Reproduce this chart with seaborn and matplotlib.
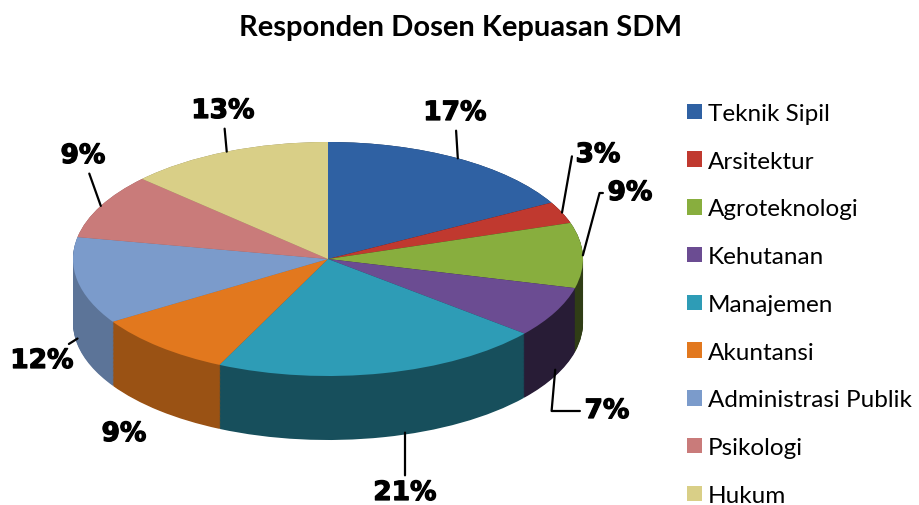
import matplotlib
matplotlib.use("Agg")
import matplotlib.pyplot as plt
import matplotlib.patheffects as pe
import numpy as np
import seaborn as sns
from matplotlib.colors import to_rgb

# ---- chart data ----
title = "Responden Dosen Kepuasan SDM"
categories = ["Teknik Sipil", "Arsitektur", "Agroteknologi", "Kehutanan", "Manajemen",
              "Akuntansi", "Administrasi Publik", "Psikologi", "Hukum"]
percent = [17, 3, 9, 7, 21, 9, 12, 9, 13]
colors = ["#2f61a3", "#c0392f", "#88ae3e", "#6b4c92", "#2e9cb6",
          "#e2781e", "#7b9bcb", "#c97b7a", "#d9cf87"]

# ---- layout (pixels, measured from top-left) ----
W, H = 919, 506
cx, cy = 328, 260          # centre of the top ellipse
rx, ry = 255, 117          # ellipse radii
depth = 64                 # height of the 3d wall
label_pos = [(455, 114), (598, 156), (630, 194), (607, 412), (405, 494),
             (124, 435), (42, 362), (83, 157), (223, 112)]
leader = ["arc3", "angle,angleA=0,angleB=80,rad=0", "angle,angleA=0,angleB=75,rad=0",
          "angle,angleA=0,angleB=85,rad=0", "vertical", None,
          "arc3", "arc3", "arc3"]

sns.set_theme(style="white")
plt.rcParams["font.family"] = ["Lato", "DejaVu Sans"]
plt.rcParams["text.color"] = "black"

fig = plt.figure(figsize=(W / 100, H / 100), dpi=100)
ax = fig.add_axes([0, 0, 1, 1])


def to_data(px, py):
    return (px - cx) / rx, (cy - py) / ry


# side wall: stack of darker pies shifted down
shares = np.array(percent) / sum(percent)
starts = 90 - 360 * np.concatenate([[0], np.cumsum(shares)[:-1]])
mids = np.radians(starts - 180 * shares)
wall_colors = []
for c, m in zip(colors, mids):
    f = 0.55 - 0.2 * np.cos(m)
    wall_colors.append(tuple(v * f for v in to_rgb(c)))

for d in np.linspace(depth, 0, 80):
    ax.pie(percent, colors=wall_colors, startangle=90, counterclock=False,
           center=(0, -d / ry), radius=1, wedgeprops=dict(linewidth=0))

# top face
wedges, _ = ax.pie(percent, colors=colors, startangle=90, counterclock=False,
                   radius=1, wedgeprops=dict(linewidth=0))

ax.set_aspect("auto")
ax.set_xlim(-cx / rx, (W - cx) / rx)
ax.set_ylim(-(H - cy) / ry, cy / ry)
ax.axis("off")

# percentage labels with leader lines
bold = dict(ha="center", va="center", color="black", fontsize=19, fontweight="heavy",
            family="DejaVu Sans",
            path_effects=[pe.withStroke(linewidth=0.9, foreground="black")])
for p, m, pos, style in zip(percent, mids, label_pos, leader):
    txt = f"{p}%"
    tx, ty = to_data(*pos)
    if style is None:
        ax.text(tx, ty, txt, **bold)
        continue
    x, y = np.cos(m), np.sin(m)
    if style == "vertical":
        # hang the line straight down from the bottom of the wall
        x, y = tx, -np.sqrt(1 - tx ** 2) - 0.97 * depth / ry
        style = "arc3"
    elif y < 0:
        y -= 0.9 * depth / ry
    ax.annotate(txt, xy=(x, y), xytext=(tx, ty), **bold,
                arrowprops=dict(arrowstyle="-", color="black", lw=1.6,
                                connectionstyle=style, shrinkA=1, shrinkB=0))

fig.text(461 / W, 1 - 28 / H, title, ha="center", va="center",
         fontsize=21, fontweight="bold", color="black")

ax.legend(wedges, categories, loc="upper left", bbox_to_anchor=(687 / W, 1 - 104 / H),
          bbox_transform=fig.transFigure, frameon=False, fontsize=17.5,
          handlelength=0.6, handleheight=0.6, handletextpad=0.27,
          labelspacing=1.1, borderpad=0, borderaxespad=0, labelcolor="black")

fig.savefig("out.png", dpi=100)
